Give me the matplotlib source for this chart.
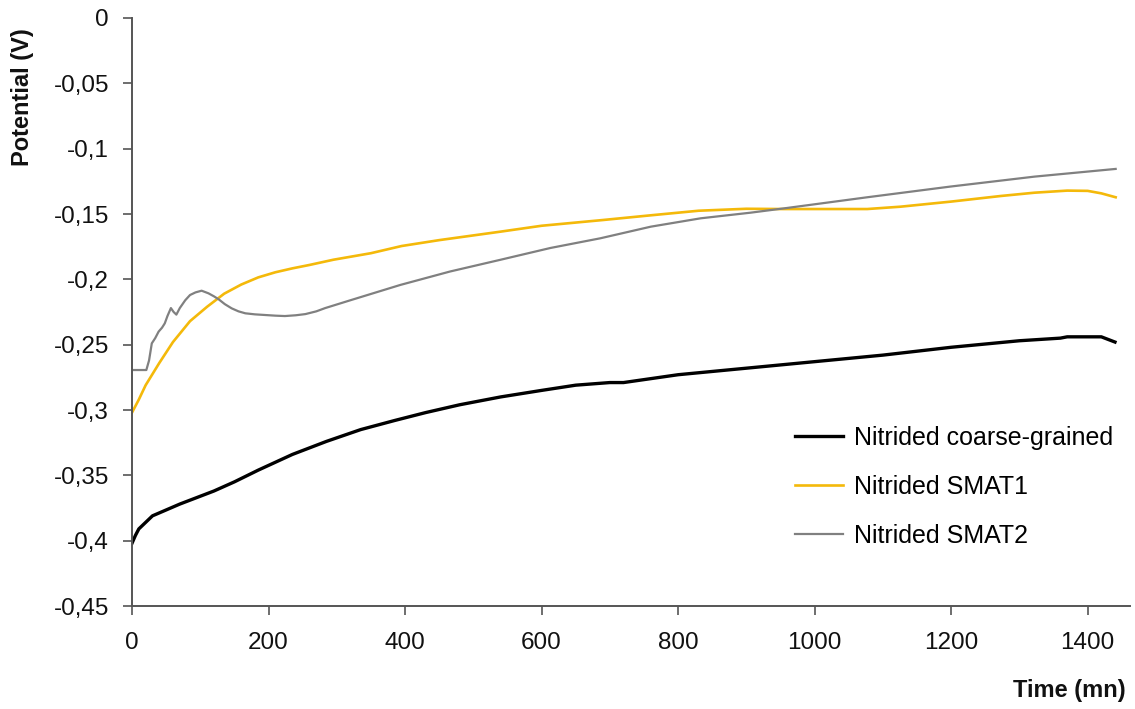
import matplotlib
matplotlib.use("Agg")
import matplotlib.pyplot as plt
from matplotlib.ticker import FixedLocator, FuncFormatter

plt.rcParams['font.family'] = ['Liberation Sans', 'DejaVu Sans']

# Open-circuit potential vs immersion time
t_coarse = [0, 5, 10, 20, 30, 50, 70, 90, 120, 150, 185, 235, 285, 335, 385, 430,
            480, 540, 600, 650, 700, 720, 760, 800, 900, 1000, 1100, 1200, 1300,
            1360, 1370, 1420, 1440]
v_coarse = [-0.402, -0.396, -0.391, -0.386, -0.381, -0.3765, -0.372, -0.368, -0.362,
            -0.355, -0.346, -0.334, -0.324, -0.315, -0.308, -0.302, -0.296, -0.290,
            -0.285, -0.281, -0.279, -0.279, -0.276, -0.273, -0.268, -0.263, -0.258,
            -0.252, -0.247, -0.245, -0.244, -0.244, -0.248]

t_smat1 = [0, 10, 20, 40, 60, 85, 110, 135, 160, 185, 210, 235, 260, 295, 350, 395,
           450, 540, 600, 690, 760, 830, 900, 955, 1000, 1077, 1126, 1200, 1273,
           1322, 1370, 1400, 1420, 1441]
v_smat1 = [-0.302, -0.292, -0.281, -0.264, -0.248, -0.232, -0.221, -0.211, -0.204,
           -0.1985, -0.1946, -0.1916, -0.189, -0.185, -0.180, -0.1745, -0.170,
           -0.1635, -0.159, -0.1546, -0.151, -0.1475, -0.146, -0.1462, -0.1462,
           -0.1462, -0.1444, -0.1405, -0.1362, -0.1337, -0.1321, -0.1323, -0.1342,
           -0.1372]

t_smat2 = [0, 21, 25, 29, 34, 39, 44, 48, 52, 57, 61, 65, 70, 74, 78, 85, 93, 102,
           112, 120, 127, 136, 146, 156, 166, 180, 195, 210, 224, 240, 254, 270, 283,
           320, 393, 466, 540, 613, 686, 760, 833, 906, 955, 1077, 1199, 1322, 1441]
v_smat2 = [-0.2694, -0.2694, -0.262, -0.249, -0.245, -0.240, -0.237, -0.2337, -0.228,
           -0.222, -0.225, -0.227, -0.222, -0.219, -0.216, -0.212, -0.210, -0.2087,
           -0.2107, -0.213, -0.2153, -0.219, -0.2222, -0.2245, -0.226, -0.2268,
           -0.2273, -0.2278, -0.2281, -0.2275, -0.2266, -0.2245, -0.222, -0.216,
           -0.2043, -0.194, -0.185, -0.176, -0.1686, -0.1597, -0.1533, -0.149,
           -0.1457, -0.1372, -0.129, -0.1214, -0.1155]

x_ticks = [0, 200, 400, 600, 800, 1000, 1200, 1400]
y_ticks = [0, -0.05, -0.1, -0.15, -0.2, -0.25, -0.3, -0.35, -0.4, -0.45]
labels = ["Nitrided coarse-grained", "Nitrided SMAT1", "Nitrided SMAT2"]

W, H = 1135, 709
fig = plt.figure(figsize=(W / 100, H / 100), dpi=100)
ax = fig.add_axes([132 / W, (H - 606) / H, (1130 - 132) / W, (606 - 18) / H])

ax.plot(t_coarse, v_coarse, color='#000000', lw=2.4, label=labels[0])
ax.plot(t_smat1, v_smat1, color='#F4B90A', lw=1.9, label=labels[1])
ax.plot(t_smat2, v_smat2, color='#808080', lw=1.6, label=labels[2])

ax.set_xlim(0, 1462)
ax.set_ylim(-0.45, 0)
ax.xaxis.set_major_locator(FixedLocator(x_ticks))
ax.yaxis.set_major_locator(FixedLocator(y_ticks))


def comma_fmt(v, pos):
    if abs(v) < 1e-12:
        return "0"
    s = f"{v:.2f}".rstrip('0').rstrip('.')
    return s.replace('.', ',')


ax.yaxis.set_major_formatter(FuncFormatter(comma_fmt))
ax.xaxis.set_major_formatter(FuncFormatter(lambda v, p: f"{int(v)}"))

for side in ('top', 'right'):
    ax.spines[side].set_visible(False)
for side in ('left', 'bottom'):
    ax.spines[side].set_color('#555555')
    ax.spines[side].set_linewidth(1.4)

ax.tick_params(axis='both', direction='out', length=6.5, width=1.2, color='#555555',
               labelsize=17.5, labelcolor='#111111')
ax.tick_params(axis='x', pad=12)
ax.tick_params(axis='y', pad=10)

fig.text(22 / W, 1 - 97 / H, "Potential (V)", rotation=90, ha='center', va='center',
         fontsize=17, fontweight='bold', color='#111111')
fig.text(1069 / W, 1 - 691 / H, "Time (mn)", ha='center', va='center',
         fontsize=17, fontweight='bold', color='#111111')

ax.legend(loc='upper left', bbox_to_anchor=(795 / W, 1 - 426 / H),
          bbox_transform=fig.transFigure, frameon=False, fontsize=18,
          handlelength=1.9, handletextpad=0.45, labelspacing=1.0,
          borderpad=0, borderaxespad=0)

fig.savefig("out.png", dpi=100)
